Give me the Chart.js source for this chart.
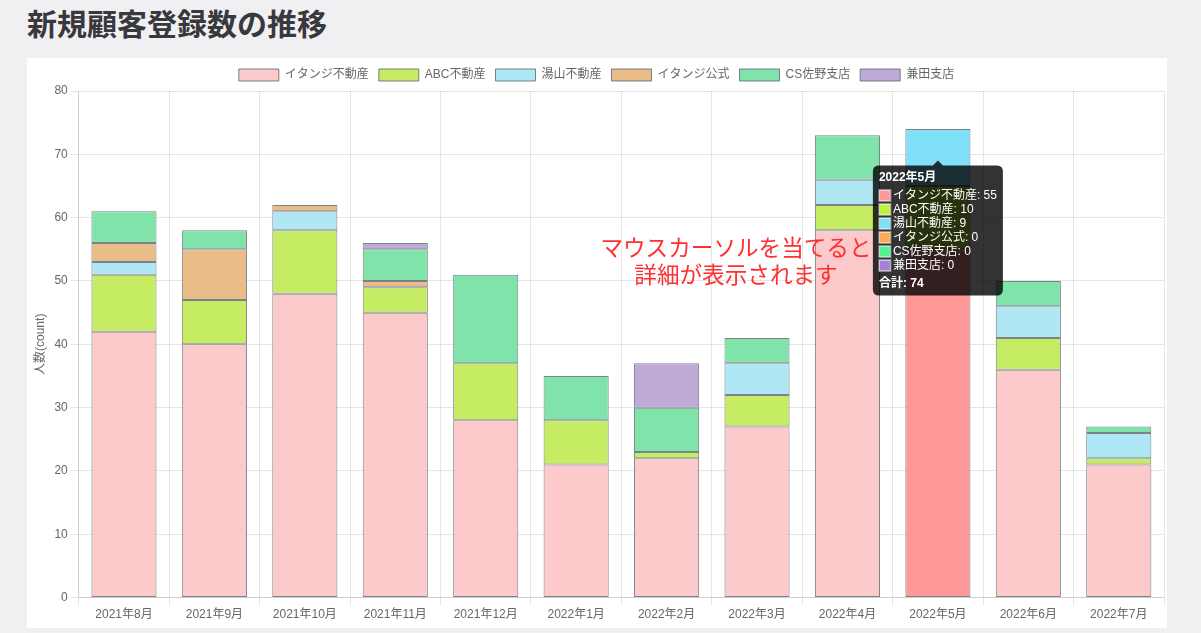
<!DOCTYPE html>
<html lang="ja">
<head>
<meta charset="utf-8">
<title>新規顧客登録数の推移</title>
<script src="https://cdn.jsdelivr.net/npm/chart.js@4.4.1/dist/chart.umd.min.js"></script>
<style>
  body {
    margin: 0;
    background: #f0f0f2;
    font-family: "Helvetica Neue", Helvetica, Arial, "Noto Sans CJK JP", sans-serif;
  }
  h1 {
    position: absolute;
    left: 27px;
    top: 6px;
    margin: 0;
    font-size: 30px;
    line-height: 38px;
    font-weight: bold;
    color: #38383d;
  }
  .card {
    position: absolute;
    left: 27px;
    top: 58px;
    width: 1140px;
    height: 570px;
    background: #fff;
  }
  .note {
    position: absolute;
    left: 586px;
    top: 235px;
    width: 300px;
    text-align: center;
    font-size: 22.6px;
    line-height: 27px;
    color: #ff3030;
    pointer-events: none;
  }
</style>
</head>
<body>
<h1>新規顧客登録数の推移</h1>
<div class="card"><canvas id="chart"></canvas></div>
<div class="note">マウスカーソルを当てると<br>詳細が表示されます</div>
<script>
const months = ['2021年8月', '2021年9月', '2021年10月', '2021年11月', '2021年12月', '2022年1月',
                '2022年2月', '2022年3月', '2022年4月', '2022年5月', '2022年6月', '2022年7月'];
const seriesNames = ['イタンジ不動産', 'ABC不動産', '湯山不動産', 'イタンジ公式', 'CS佐野支店', '兼田支店'];
const itanji   = [42, 40, 48, 45, 28, 21, 22, 27, 58, 55, 36, 21];
const abc      = [9, 7, 10, 4, 9, 7, 1, 5, 4, 10, 5, 1];
const yuyama   = [2, 0, 3, 0, 0, 0, 0, 5, 4, 9, 5, 4];
const koushiki = [3, 8, 1, 1, 0, 0, 0, 0, 0, 0, 0, 0];
const csSano   = [5, 3, 0, 5, 14, 7, 7, 4, 7, 0, 4, 1];
const kaneda   = [0, 0, 0, 1, 0, 0, 7, 0, 0, 0, 0, 0];
const yTicks   = [0, 80, 10]; // min, max, step

const fills  = ['#fccaca', '#c5ec63', '#b0e7f5', '#e9bc88', '#80e4aa', '#bfa9d6'];
const hovers = ['#ff9999', '#c0f43c', '#80e0fa', '#ffaa55', '#50f590', '#a580d8'];
const edge = 'rgba(100,108,116,0.85)';

Chart.defaults.font.family = '"Helvetica Neue", Helvetica, Arial, "Noto Sans CJK JP", sans-serif';
Chart.defaults.font.size = 12;
Chart.defaults.color = '#666';

const values = [itanji, abc, yuyama, koushiki, csSano, kaneda];

const chart = new Chart(document.getElementById('chart'), {
    type: 'bar',
    data: {
        labels: months,
        datasets: values.map((v, i) => ({
            label: seriesNames[i],
            data: v,
            backgroundColor: fills[i],
            hoverBackgroundColor: hovers[i],
            borderColor: edge,
            hoverBorderColor: edge,
            borderWidth: 1,
            borderSkipped: false
        }))
    },
    options: {
        responsive: true,
        maintainAspectRatio: false,
        animation: false,
        layout: { padding: { top: 1, left: 2, right: 3, bottom: 4 } },
        interaction: { mode: 'index', intersect: false },
        scales: {
            x: {
                stacked: true,
                grid: { color: 'rgba(0,0,0,0.1)', tickLength: 8 },
                ticks: { padding: 2 }
            },
            y: {
                stacked: true,
                min: yTicks[0],
                max: yTicks[1],
                ticks: { stepSize: yTicks[2] },
                grid: { color: 'rgba(0,0,0,0.1)', tickLength: 8 },
                title: { display: true, text: '人数(count)' }
            }
        },
        plugins: {
            legend: {
                labels: { boxWidth: 40, boxHeight: 12, padding: 10 }
            },
            tooltip: {
                mode: 'index',
                xAlign: 'center',
                yAlign: 'top',
                backgroundColor: 'rgba(0,0,0,0.8)',
                titleFont: { weight: 'bold', size: 12, lineHeight: 1 },
                bodyFont: { size: 12, lineHeight: 1 },
                footerFont: { weight: 'bold', size: 12, lineHeight: 1 },
                bodySpacing: 2,
                padding: 6,
                cornerRadius: 6,
                callbacks: {
                    labelColor: (item) => ({
                        borderColor: '#888',
                        backgroundColor: hovers[item.datasetIndex]
                    }),
                    footer: (items) => '合計: ' + items.reduce((s, it) => s + it.parsed.y, 0)
                }
            }
        }
    }
});

// show the hover state for 2022年5月 as in the screenshot
const hoverIndex = months.indexOf('2022年5月');
const active = values.map((v, i) => ({ datasetIndex: i, index: hoverIndex }));
chart.setActiveElements(active);
chart.tooltip.setActiveElements(active, { x: 0, y: 0 });
chart.update();
</script>
</body>
</html>
